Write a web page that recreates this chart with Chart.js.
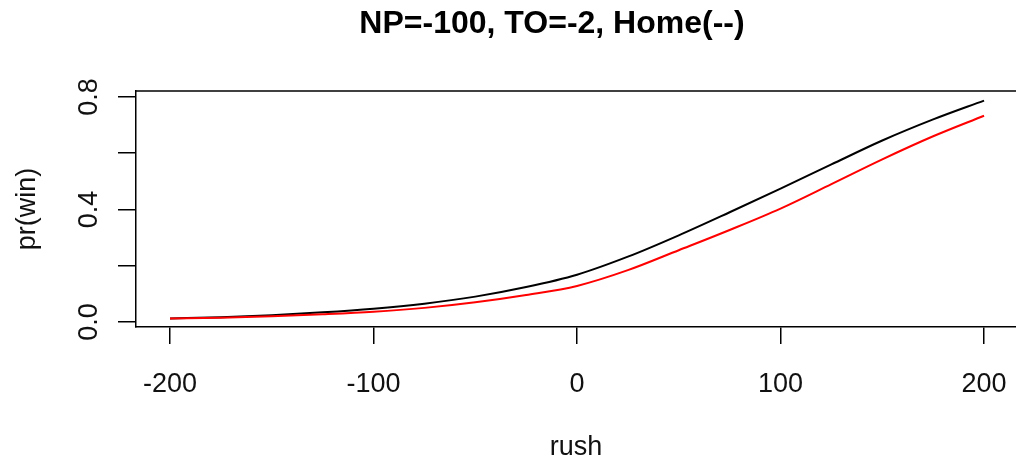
<!DOCTYPE html>
<html>
<head>
<meta charset="utf-8">
<script src="https://cdn.jsdelivr.net/npm/chart.js@4"></script>
<style>
  html, body { margin: 0; padding: 0; background: #fff; }
  #wrap { width: 1016px; height: 466px; }
</style>
</head>
<body>
<div id="wrap"><canvas id="winChart" width="1016" height="466"></canvas></div>
<script>
// rush values along the x axis
var rush = [-200, -175, -150, -125, -100, -75, -50, -25, 0, 25, 50, 75, 100, 125, 150, 175, 200];
// win probability, black curve and red curve
var winBlack = [0.012, 0.017, 0.024, 0.034, 0.047, 0.065, 0.090, 0.124, 0.168, 0.232, 0.308, 0.390, 0.474, 0.560, 0.645, 0.720, 0.787];
var winRed = [0.012, 0.015, 0.020, 0.027, 0.036, 0.050, 0.070, 0.096, 0.128, 0.184, 0.255, 0.327, 0.403, 0.490, 0.578, 0.660, 0.733];
var xTicks = [-200, -100, 0, 100, 200];
var yTicks = [0, 0.2, 0.4, 0.6, 0.8];
var yLabels = ['0.0', '0.4', '0.8'];
var yLabelValues = [0, 0.4, 0.8];
var titleText = 'NP=-100, TO=-2, Home(--)';

var fontFamily = '"Liberation Sans", Arial, sans-serif';

function toPoints(ys) {
    return rush.map(function (x, i) { return { x: x, y: ys[i] }; });
}

// frame, rotated y labels and titles in the R style
var frameAndText = {
    id: 'frameAndText',
    afterDraw: function (chart) {
        var ctx = chart.ctx;
        var area = chart.chartArea;
        var ys = chart.scales.y;
        ctx.save();
        ctx.strokeStyle = '#000';
        ctx.lineWidth = 1.5;
        ctx.beginPath();
        ctx.moveTo(area.left, area.top);
        ctx.lineTo(chart.width, area.top);
        ctx.stroke();

        ctx.fillStyle = '#111';
        ctx.textAlign = 'center';
        ctx.textBaseline = 'middle';
        ctx.font = '27px ' + fontFamily;
        yLabelValues.forEach(function (v, i) {
            ctx.save();
            ctx.translate(90, ys.getPixelForValue(v));
            ctx.rotate(-Math.PI / 2);
            ctx.fillText(yLabels[i], 0, 0);
            ctx.restore();
        });

        ctx.save();
        ctx.translate(28, (area.top + area.bottom) / 2);
        ctx.rotate(-Math.PI / 2);
        ctx.fillText('pr(win)', 0, 0);
        ctx.restore();

        ctx.fillText('rush', 576, 448);

        ctx.fillStyle = '#000';
        ctx.font = 'bold 32px ' + fontFamily;
        ctx.fillText(titleText, 552, 24);
        ctx.restore();
    }
};

var ctx = document.getElementById('winChart').getContext('2d');
var winChart = new Chart(ctx, {
    type: 'line',
    data: {
        datasets: [{
            label: 'black',
            data: toPoints(winBlack),
            borderColor: '#000',
            borderWidth: 2,
            pointRadius: 0,
            cubicInterpolationMode: 'monotone',
            order: 1
        }, {
            label: 'red',
            data: toPoints(winRed),
            borderColor: '#ff0000',
            borderWidth: 2,
            pointRadius: 0,
            cubicInterpolationMode: 'monotone',
            order: 0
        }]
    },
    options: {
        responsive: false,
        animation: false,
        layout: { padding: { left: 0, right: 0, top: 91, bottom: 0 } },
        plugins: {
            legend: { display: false },
            title: { display: false },
            tooltip: { enabled: false }
        },
        scales: {
            x: {
                type: 'linear',
                min: -216.7,
                max: 215.7,
                afterBuildTicks: function (scale) {
                    scale.ticks = xTicks.map(function (v) { return { value: v }; });
                },
                afterFit: function (scale) {
                    scale.height = 139;
                    scale.paddingLeft = 0;
                    scale.paddingRight = 0;
                },
                grid: {
                    drawOnChartArea: false,
                    drawTicks: true,
                    tickLength: 17,
                    color: '#000',
                    lineWidth: 1.5
                },
                border: { display: true, color: '#000', width: 1.5 },
                ticks: {
                    color: '#111',
                    padding: 24,
                    maxRotation: 0,
                    font: { family: fontFamily, size: 27 },
                    callback: function (v) { return String(v); }
                }
            },
            y: {
                type: 'linear',
                min: -0.018,
                max: 0.821,
                afterBuildTicks: function (scale) {
                    scale.ticks = yTicks.map(function (v) { return { value: v }; });
                },
                afterFit: function (scale) {
                    scale.width = 136;
                    scale.paddingTop = 0;
                    scale.paddingBottom = 0;
                },
                grid: {
                    drawOnChartArea: false,
                    drawTicks: true,
                    tickLength: 18,
                    color: '#000',
                    lineWidth: 1.5
                },
                border: { display: true, color: '#000', width: 1.5 },
                ticks: { display: false }
            }
        }
    },
    plugins: [frameAndText]
});
</script>
</body>
</html>
